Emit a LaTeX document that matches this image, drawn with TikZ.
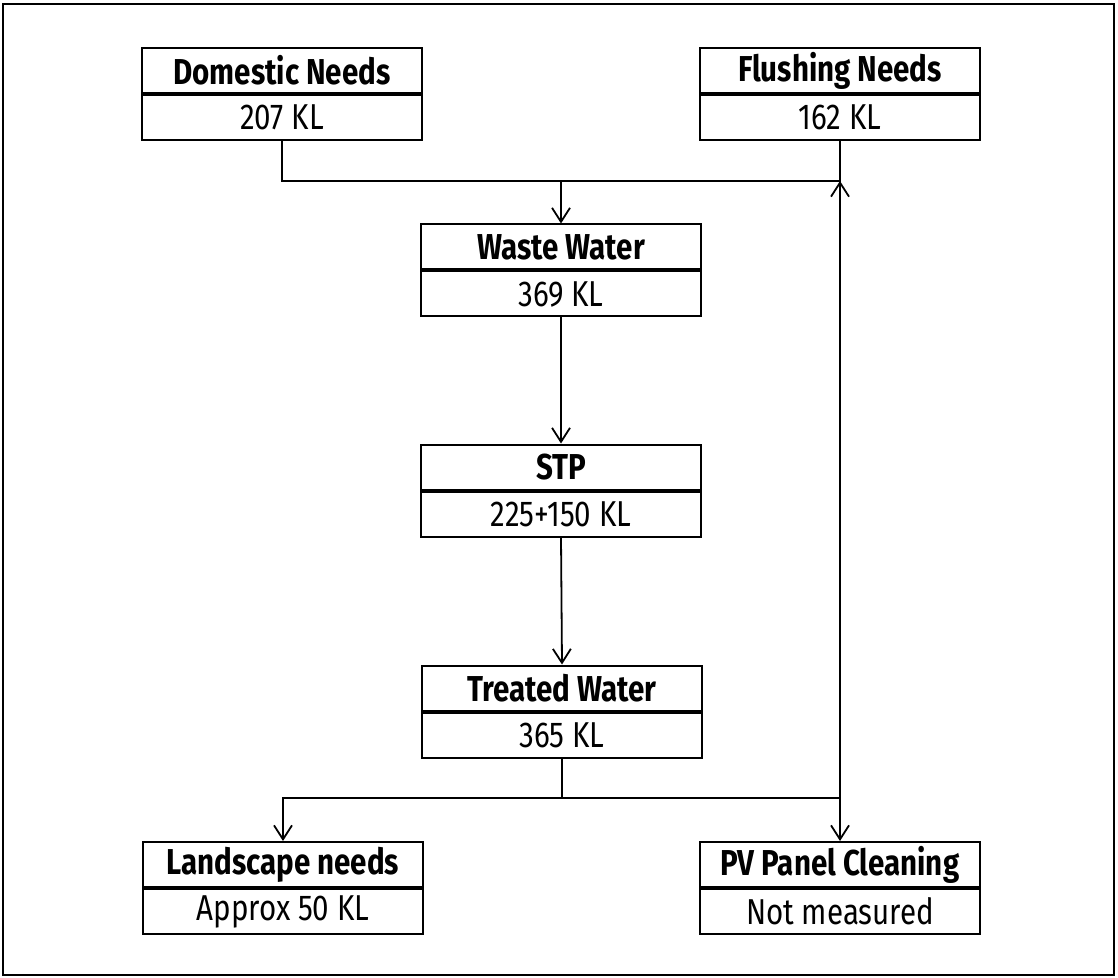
\documentclass[tikz,border=0pt]{standalone}
\usepackage{fontspec}
\setmainfont{Fira Sans}[FakeStretch=0.82]
\usetikzlibrary{positioning,arrows.meta}

\tikzset{
  titlebox/.style={draw, line width=1pt, minimum width=140pt, minimum height=22.5pt,
    inner sep=0pt, font=\fontsize{18}{20}\selectfont\bfseries},
  valbox/.style={draw, line width=1pt, minimum width=140pt, minimum height=22.5pt,
    inner sep=0pt, font=\fontsize{18}{20}\selectfont},
  flow/.style={line width=0.9pt, -{Straight Barb[length=7pt,width=9pt,line width=0.9pt]}},
  link/.style={line width=0.9pt}
}

\begin{document}
\begin{tikzpicture}[x=0.5pt, y=-0.5pt]
\useasboundingbox (0,0) rectangle (1118,978);
\draw[line width=1.3pt] (3,4) rectangle (1114,975);

% sources
\node[titlebox] (dom) at (282,70.5) {Domestic Needs};
\node[valbox, below=0pt of dom] (domval) {207 KL};
\node[titlebox] (flush) at (840,70.5) {Flushing Needs};
\node[valbox, below=0pt of flush] (flushval) {162 KL};

% treatment chain
\node[titlebox] (waste) at (561,247) {Waste Water};
\node[valbox, below=0pt of waste] (wasteval) {369 KL};
\node[titlebox] (stp) at (561,467) {STP};
\node[valbox, below=0pt of stp] (stpval) {225+150 KL};
\node[titlebox] (treat) at (562,688) {Treated Water};
\node[valbox, below=0pt of treat] (treatval) {365 KL};

% reuse
\node[titlebox] (land) at (283,864.5) {Landscape needs};
\node[valbox, below=0pt of land] (landval) {Approx 50 KL};
\node[titlebox] (pv) at (840,864.5) {PV Panel Cleaning};
\node[valbox, below=0pt of pv] (pvval) {Not measured};

\coordinate (mergetop) at (561,181);
\coordinate (splitbot) at (562,798);

\draw[link] (domval.south) |- (mergetop);
\draw[link] (flushval.south) |- (mergetop);
\draw[flow] (mergetop) -- (waste.north);

\draw[flow] (wasteval.south) -- (stp.north);
\draw[flow] (stpval.south) -- (treat.north);

\draw[link] (treatval.south) -- (splitbot);
\draw[flow] (splitbot) -| (land.north);
\draw[flow] (splitbot) -| (pv.north);
\draw[flow] (pv.north |- splitbot) -- (pv.north |- mergetop);
\end{tikzpicture}
\end{document}
